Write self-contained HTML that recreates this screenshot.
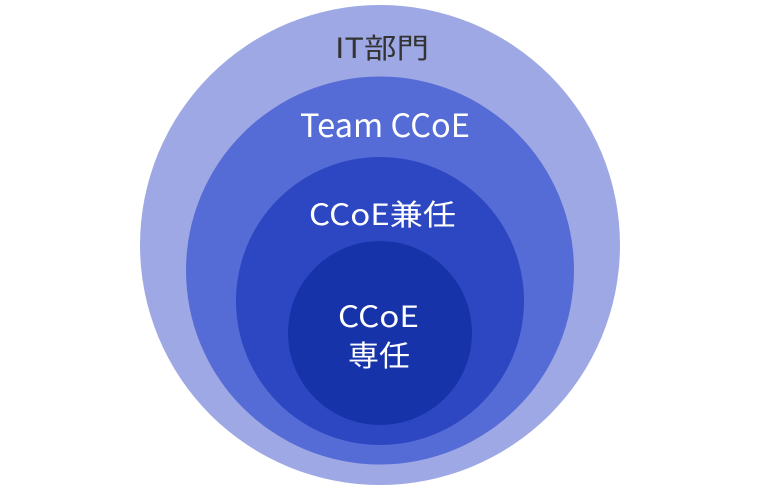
<!DOCTYPE html>
<html><head><meta charset="utf-8"><style>html,body{margin:0;padding:0;background:#fff}svg{display:block}</style></head>
<body>
<svg width="760" height="490" viewBox="0 0 760 490" xmlns="http://www.w3.org/2000/svg" font-family="'Noto Sans CJK JP','Liberation Sans',sans-serif">
<circle cx="380" cy="245" r="240" fill="#9ea8e4"/>
<circle cx="380" cy="270.5" r="194" fill="#556bd5"/>
<circle cx="380" cy="301" r="144" fill="#2c47c1"/>
<circle cx="380" cy="333" r="92" fill="#1633aa"/>
<text x="335" y="58" font-size="28" fill="#333" textLength="94" lengthAdjust="spacingAndGlyphs">IT部門</text>
<text x="300" y="137" font-size="32" fill="#fff" textLength="170" lengthAdjust="spacingAndGlyphs">Team CCoE</text>
<text x="309" y="225" font-size="29" fill="#fff" textLength="147" lengthAdjust="spacingAndGlyphs">CCoE兼任</text>
<text x="338" y="327" font-size="29" fill="#fff" textLength="81" lengthAdjust="spacingAndGlyphs">CCoE</text>
<text x="348" y="366" font-size="29" fill="#fff" textLength="62" lengthAdjust="spacingAndGlyphs">専任</text>
</svg>
</body></html>
